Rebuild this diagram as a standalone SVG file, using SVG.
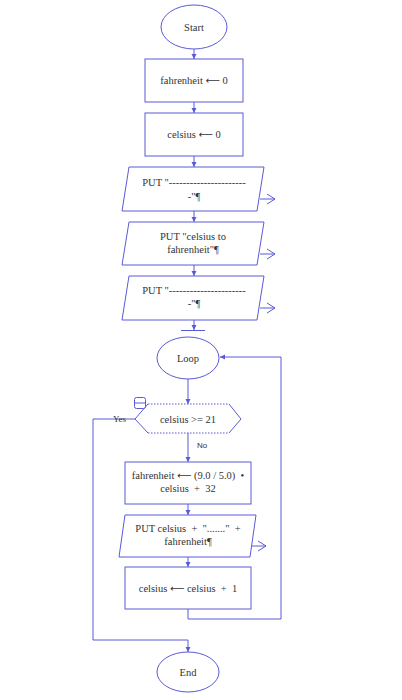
<svg xmlns="http://www.w3.org/2000/svg" width="402" height="700" viewBox="0 0 402 700">
<style>
.s{fill:#fff;stroke:#5a5ad8;stroke-width:1}
.c{fill:none;stroke:#5a5ad8;stroke-width:1}
.d{fill:none;stroke:#5a5ad8;stroke-width:1;stroke-dasharray:1.5 1.5}
text{font-family:"Liberation Serif","DejaVu Serif","Times New Roman",serif;fill:#333}
.t{font-size:10.5px;text-anchor:middle}
.l{font-size:9px}
.n{font-family:"Liberation Sans",Arial,sans-serif;font-size:8px}
.ar{font-family:"DejaVu Sans",sans-serif;font-size:10px;fill:#333}
</style>
<defs>
<marker id="a" markerWidth="6" markerHeight="6" refX="5" refY="3" orient="auto" markerUnits="userSpaceOnUse"><path d="M0,0.5 L5,3 L0,5.5 Z" fill="#5a5ad8"/></marker>
<marker id="o" markerWidth="10" markerHeight="12" refX="9" refY="6" orient="auto" markerUnits="userSpaceOnUse"><path d="M1,1 L9,6 L1,11" fill="none" stroke="#5a5ad8" stroke-width="1"/></marker>
</defs>
<rect width="402" height="700" fill="#fff"/>
<g id="connectors">
<path class="c" d="M194,49 V59" marker-end="url(#a)"/>
<path class="c" d="M194,102 V113" marker-end="url(#a)"/>
<path class="c" d="M194,156 V167" marker-end="url(#a)"/>
<path class="c" d="M194,211 V222" marker-end="url(#a)"/>
<path class="c" d="M194,265 V276" marker-end="url(#a)"/>
<path class="c" d="M194,320 V330" marker-end="url(#a)"/>
<path class="c" d="M181,330.5 H205"/>
<path class="c" d="M188,379 V404" marker-end="url(#a)"/>
<path class="c" d="M188,433 V462" marker-end="url(#a)"/>
<path class="c" d="M135,419 H93 V640 H188 V652" marker-end="url(#a)"/>
<path class="c" d="M188,504 V515" marker-end="url(#a)"/>
<path class="c" d="M188,557 V567" marker-end="url(#a)"/>
<path class="c" d="M188,609 V619 H281 V357 H220" marker-end="url(#a)"/>
<path class="c" d="M260,199 H275" marker-end="url(#o)"/>
<path class="c" d="M260,254 H275" marker-end="url(#o)"/>
<path class="c" d="M260,308 H275" marker-end="url(#o)"/>
<path class="c" d="M252,546 H266" marker-end="url(#o)"/>
</g>
<g id="start">
<ellipse class="s" cx="194" cy="27" rx="33" ry="22"/>
<text class="t" x="194" y="31">Start</text>
</g>
<g id="n1">
<rect class="s" x="145" y="59" width="98" height="43"/>
<text class="t" x="194" y="84">fahrenheit <tspan class="ar">⟵</tspan> 0</text>
</g>
<g id="n2">
<rect class="s" x="145" y="113" width="98" height="43"/>
<text class="t" x="194" y="138">celsius <tspan class="ar">⟵</tspan> 0</text>
</g>
<g id="p1">
<polygon class="s" points="129,167 264,167 257,211 122,211"/>
<text class="t" x="194" y="186">PUT "----------------------</text>
<text class="t" x="194" y="200">-"¶</text>
</g>
<g id="p2">
<polygon class="s" points="129,222 264,222 257,265 122,265"/>
<text class="t" x="193" y="240">PUT "celsius to</text>
<text class="t" x="193" y="253">fahrenheit"¶</text>
</g>
<g id="p3">
<polygon class="s" points="129,276 264,276 257,320 122,320"/>
<text class="t" x="194" y="294">PUT "----------------------</text>
<text class="t" x="194" y="307">-"¶</text>
</g>
<g id="loop">
<ellipse class="s" cx="188" cy="358" rx="31" ry="21"/>
<text class="t" x="188" y="362">Loop</text>
</g>
<g id="dec">
<polygon points="135,419 148,404 229,404 241,419 229,433 148,433" fill="#fff" stroke="none"/>
<path class="c" d="M148,404 L135,419 L148,433 M229,404 L241,419 L229,433"/>
<path class="d" d="M148,404 H229 M148,433 H229"/>
<text class="t" x="188" y="423">celsius &gt;= 21</text>
<rect x="134.5" y="397.5" width="11" height="11" rx="2" fill="#fff" stroke="#5a5ad8"/>
<path class="c" d="M134.5,403 H145.5"/>
<text class="l" x="113" y="422">Yes</text>
<text class="n" x="197" y="448">No</text>
</g>
<g id="n3">
<rect class="s" x="125" y="462" width="126" height="42"/>
<text class="t" x="188" y="479">fahrenheit <tspan class="ar">⟵</tspan> (9.0 / 5.0)&#160; •</text>
<text class="t" x="188" y="492">celsius&#160; +&#160; 32</text>
</g>
<g id="p4">
<polygon class="s" points="125,515 256,515 250,557 119,557"/>
<text class="t" x="188" y="532">PUT celsius&#160; +&#160; "......."&#160; +</text>
<text class="t" x="188" y="545">fahrenheit¶</text>
</g>
<g id="n4">
<rect class="s" x="125" y="567" width="126" height="42"/>
<text class="t" x="188" y="592">celsius <tspan class="ar">⟵</tspan> celsius&#160; +&#160; 1</text>
</g>
<g id="end">
<ellipse class="s" cx="188" cy="672" rx="31" ry="20"/>
<text class="t" x="188" y="676">End</text>
</g>
</svg>
